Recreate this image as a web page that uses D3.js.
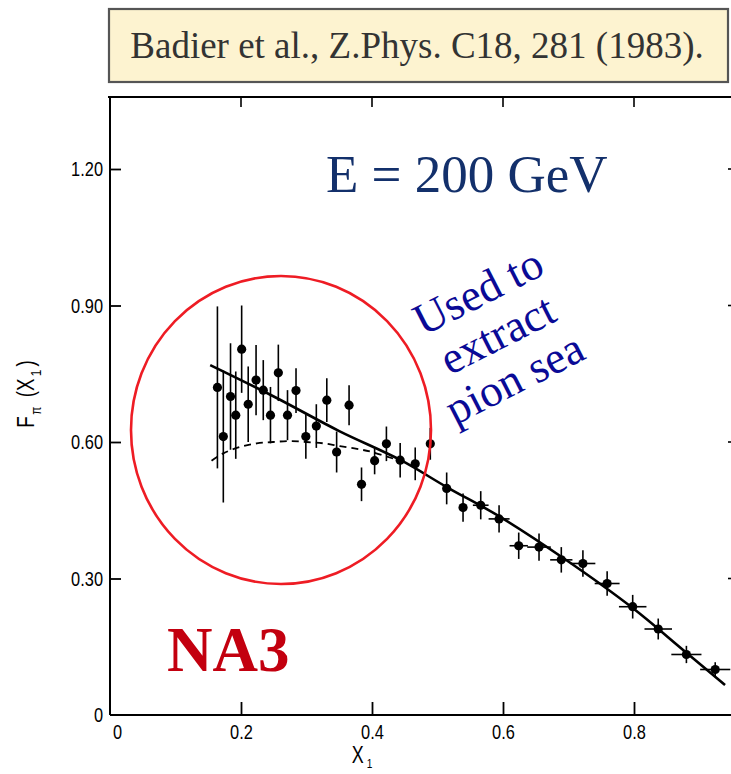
<!DOCTYPE html>
<html>
<head>
<meta charset="utf-8">
<script src="https://cdn.jsdelivr.net/npm/d3@7"></script>
<style>
  html, body { margin: 0; padding: 0; background: #ffffff; }
  svg { display: block; }
</style>
</head>
<body>
<div id="chart"></div>
<script>
// NA3 pion structure function F_pi(x1) at E = 200 GeV
const x1Values = [0.164, 0.173, 0.184, 0.192, 0.201, 0.211, 0.223, 0.234, 0.245, 0.257,
                  0.271, 0.284, 0.299, 0.315, 0.331, 0.346, 0.365, 0.384, 0.404, 0.422,
                  0.443, 0.466, 0.489, 0.514, 0.539, 0.566, 0.594, 0.624, 0.655, 0.689,
                  0.722, 0.759, 0.798, 0.837, 0.880, 0.924];
const fValues  = [0.720, 0.612, 0.700, 0.659, 0.804, 0.683, 0.736, 0.714, 0.659, 0.752,
                  0.659, 0.713, 0.612, 0.635, 0.692, 0.578, 0.681, 0.507, 0.559, 0.596,
                  0.560, 0.552, 0.596, 0.498, 0.456, 0.461, 0.431, 0.372, 0.369, 0.341,
                  0.333, 0.289, 0.238, 0.189, 0.133, 0.100];
const fErrors  = [0.178, 0.145, 0.117, 0.096, 0.096, 0.083, 0.077, 0.066, 0.062, 0.062,
                  0.055, 0.049, 0.049, 0.048, 0.048, 0.045, 0.044, 0.037, 0.030, 0.038,
                  0.038, 0.036, 0.035, 0.035, 0.031, 0.031, 0.030, 0.029, 0.030, 0.028,
                  0.029, 0.027, 0.026, 0.023, 0.019, 0.016];
const xErrors  = [0, 0, 0, 0, 0, 0, 0, 0, 0, 0,
                  0, 0, 0, 0, 0, 0, 0, 0, 0, 0,
                  0, 0, 0, 0, 0, 0.012, 0.016, 0.014, 0.018, 0.017,
                  0.019, 0.019, 0.021, 0.021, 0.023, 0.023];

// total fit (solid) and valence-only fit (dashed)
const fitX     = [0.153, 0.250, 0.350, 0.444, 0.514, 0.595, 0.697, 0.798, 0.875, 0.939];
const fitY     = [0.769, 0.700, 0.624, 0.560, 0.501, 0.436, 0.340, 0.235, 0.143, 0.066];
const valX     = [0.155, 0.173, 0.198, 0.224, 0.249, 0.275, 0.300, 0.326, 0.351, 0.377, 0.400, 0.440];
const valY     = [0.559, 0.575, 0.589, 0.597, 0.600, 0.602, 0.600, 0.597, 0.591, 0.585, 0.578, 0.560];

const xTicks = [0, 0.2, 0.4, 0.6, 0.8];
const xTickLabels = ["0", "0.2", "0.4", "0.6", "0.8"];
const yTicks = [0, 0.3, 0.6, 0.9, 1.2];
const yTickLabels = ["0", "0.30", "0.60", "0.90", "1.20"];

const W = 731, H = 774;
const svg = d3.select("#chart").append("svg")
  .attr("width", W).attr("height", H)
  .attr("viewBox", `0 0 ${W} ${H}`);

const x = d3.scaleLinear().domain([0, 0.8]).range([110, 634]);
const y = d3.scaleLinear().domain([0, 1.2]).range([715, 169]);

const frameTop = 97, frameRight = 738;
const tickFont = "'Liberation Sans', 'DejaVu Sans', sans-serif";
const squeeze = 0.78; // horizontal compression for the narrow lettering
const serif = "'Liberation Serif', 'Times New Roman', serif";

// narrow a text element horizontally while keeping its anchor point in place
function narrow(sel) {
  sel.each(function () {
    const t = d3.select(this);
    const tx = +(t.attr("x") || 0);
    const dx = t.attr("dx");
    t.attr("x", tx / squeeze).attr("transform", `scale(${squeeze},1)`);
    if (dx) t.attr("dx", parseFloat(dx) / squeeze);
  });
}

// citation box
svg.append("rect")
  .attr("x", 109).attr("y", 9).attr("width", 619).attr("height", 73)
  .attr("fill", "#fdf3d0").attr("stroke", "#555555").attr("stroke-width", 2.2);
svg.append("text")
  .attr("x", 417).attr("y", 58)
  .attr("text-anchor", "middle")
  .attr("font-family", serif)
  .attr("font-size", 37)
  .attr("fill", "#333333")
  .text("Badier et al., Z.Phys. C18, 281 (1983).");

// frame: left and bottom axes, top border
const frame = svg.append("g").attr("stroke", "#000").attr("fill", "none");
frame.append("line").attr("x1", x(0)).attr("x2", x(0)).attr("y1", frameTop).attr("y2", y(0)).attr("stroke-width", 2);
frame.append("line").attr("x1", x(0)).attr("x2", W).attr("y1", y(0)).attr("y2", y(0)).attr("stroke-width", 2);
frame.append("line").attr("x1", x(0) - 2).attr("x2", W).attr("y1", frameTop).attr("y2", frameTop).attr("stroke-width", 1.8);
frame.append("line").attr("x1", frameRight).attr("x2", frameRight).attr("y1", frameTop).attr("y2", y(0)).attr("stroke-width", 2);

// bottom axis
const xAxis = d3.axisBottom(x).tickValues(xTicks).tickSize(0).tickPadding(9)
  .tickFormat((d, i) => xTickLabels[i]);
const gx = svg.append("g").attr("transform", `translate(0,${y(0)})`).call(xAxis);
gx.select(".domain").remove();
gx.selectAll("text").attr("font-family", tickFont).attr("font-size", 21).attr("fill", "#000");
gx.select(".tick text").attr("dx", 7);
narrow(gx.selectAll("text"));
gx.selectAll(".tick").filter(d => d > 0).append("line")
  .attr("y1", 0).attr("y2", -13).attr("stroke", "#000").attr("stroke-width", 1.8);

// top border ticks
svg.append("g").selectAll("line").data(xTicks.filter(d => d > 0)).join("line")
  .attr("x1", d => x(d)).attr("x2", d => x(d))
  .attr("y1", frameTop).attr("y2", frameTop + 10)
  .attr("stroke", "#000").attr("stroke-width", 1.6);

// left axis
const yAxis = d3.axisLeft(y).tickValues(yTicks).tickSize(0).tickPadding(7)
  .tickFormat((d, i) => yTickLabels[i]);
const gy = svg.append("g").attr("transform", `translate(${x(0)},0)`).call(yAxis);
gy.select(".domain").remove();
gy.selectAll("text").attr("font-family", tickFont).attr("font-size", 21).attr("fill", "#000");
narrow(gy.selectAll("text"));
gy.selectAll(".tick").filter(d => d > 0).append("line")
  .attr("x1", 0).attr("x2", 11).attr("stroke", "#000").attr("stroke-width", 1.8);

// right border ticks
svg.append("g").selectAll("line").data(yTicks.filter(d => d > 0)).join("line")
  .attr("x1", frameRight).attr("x2", frameRight - 10)
  .attr("y1", d => y(d)).attr("y2", d => y(d))
  .attr("stroke", "#000").attr("stroke-width", 1.6);

// axis titles
const xt = svg.append("text")
  .attr("transform", `translate(362,763) scale(${squeeze},1)`)
  .attr("text-anchor", "middle")
  .attr("font-family", tickFont).attr("font-size", 23).attr("fill", "#000");
xt.append("tspan").text("X");
xt.append("tspan").attr("font-size", 13).attr("dx", 4).attr("dy", 5).text("1");

const yt = svg.append("text")
  .attr("transform", `translate(34,394) rotate(-90) scale(${squeeze},1)`)
  .attr("text-anchor", "middle")
  .attr("font-family", tickFont).attr("font-size", 24).attr("fill", "#000");
yt.append("tspan").text("F");
yt.append("tspan").attr("font-size", 15).attr("dx", 2).attr("dy", 7).text("\u03c0");
yt.append("tspan").attr("dx", 12).attr("dy", -7).text("(X");
yt.append("tspan").attr("font-size", 15).attr("dx", 3).attr("dy", 7).text("1");
yt.append("tspan").attr("dx", 4).attr("dy", -7).text(")");

// fit curves
const fitData = fitX.map((v, i) => [v, fitY[i]]);
const valData = valX.map((v, i) => [v, valY[i]]);
const line = d3.line().x(d => x(d[0])).y(d => y(d[1])).curve(d3.curveCatmullRom);

svg.append("path").datum(fitData).attr("d", line)
  .attr("fill", "none").attr("stroke", "#000").attr("stroke-width", 2.6);
svg.append("path").datum(valData).attr("d", line)
  .attr("fill", "none").attr("stroke", "#000").attr("stroke-width", 1.8)
  .attr("stroke-dasharray", "7,5");

// data points with error bars
const pts = x1Values.map((v, i) => ({ x: v, f: fValues[i], ey: fErrors[i], ex: xErrors[i] }));
const gp = svg.append("g");
gp.selectAll("line.ey").data(pts).join("line").attr("class", "ey")
  .attr("x1", d => x(d.x)).attr("x2", d => x(d.x))
  .attr("y1", d => y(d.f - d.ey)).attr("y2", d => y(d.f + d.ey))
  .attr("stroke", "#000").attr("stroke-width", 1.6);
gp.selectAll("line.ex").data(pts.filter(d => d.ex > 0)).join("line").attr("class", "ex")
  .attr("x1", d => x(d.x - d.ex)).attr("x2", d => x(d.x + d.ex))
  .attr("y1", d => y(d.f)).attr("y2", d => y(d.f))
  .attr("stroke", "#000").attr("stroke-width", 1.6);
gp.selectAll("circle").data(pts).join("circle")
  .attr("cx", d => x(d.x)).attr("cy", d => y(d.f)).attr("r", 4.6)
  .attr("fill", "#000");

// annotations
svg.append("ellipse")
  .attr("cx", 281).attr("cy", 430).attr("rx", 150).attr("ry", 154)
  .attr("fill", "none").attr("stroke", "#ee1c24").attr("stroke-width", 2.6);

svg.append("text")
  .attr("x", 326).attr("y", 192)
  .attr("font-family", serif)
  .attr("font-size", 53).attr("fill", "#13306b")
  .text("E = 200 GeV");

const note = svg.append("text")
  .attr("transform", "translate(416,340) rotate(-27)")
  .attr("font-family", serif)
  .attr("font-size", 45).attr("fill", "#0a0a96");
note.append("tspan").attr("x", 8).attr("y", 0).text("Used to");
note.append("tspan").attr("x", 14).attr("y", 47).text("extract");
note.append("tspan").attr("x", -4).attr("y", 94).text("pion sea");

svg.append("text")
  .attr("x", 167).attr("y", 671)
  .attr("font-family", serif)
  .attr("font-weight", "bold")
  .attr("font-size", 63).attr("fill", "#c3000f")
  .text("NA3");
</script>
</body>
</html>
